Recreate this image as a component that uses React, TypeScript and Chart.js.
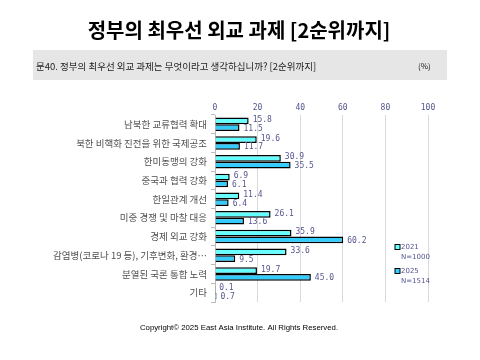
import React, { useEffect, useRef } from "react";
import { Chart, registerables } from "chart.js";

Chart.register(...registerables);

const categories = [
  "남북한 교류협력 확대",
  "북한 비핵화 진전을 위한 국제공조",
  "한미동맹의 강화",
  "중국과 협력 강화",
  "한일관계 개선",
  "미중 경쟁 및 마찰 대응",
  "경제 외교 강화",
  "감염병(코로나 19 등), 기후변화, 환경…",
  "분열된 국론 통합 노력",
  "기타",
];
const values2021 = [15.8, 19.6, 30.9, 6.9, 11.4, 26.1, 35.9, 33.6, 19.7, 0.1];
const values2025 = [11.5, 11.7, 35.5, 6.1, 6.4, 13.6, 60.2, 9.5, 45.0, 0.7];
const seriesNames = ["2021", "2025"];
const seriesN = ["N=1000", "N=1514"];
const xTicks = [0, 20, 40, 60, 80, 100];

const title = "정부의 최우선 외교 과제 [2순위까지]";
const question = "문40. 정부의 최우선 외교 과제는 무엇이라고 생각하십니까? [2순위까지]";
const unit = "(%)";
const footer = "Copyright© 2025 East Asia Institute. All Rights Reserved.";

const colors = ["#66FFFF", "#33CCFF"];
const labelColor = "#55558f";

const decorPlugin = {
  id: "decor",
  beforeDraw(chart: any) {
    const ctx = chart.ctx;
    ctx.save();
    ctx.fillStyle = "#ffffff";
    ctx.fillRect(0, 0, chart.width, chart.height);
    // title
    ctx.fillStyle = "#000";
    ctx.font = "bold 20px 'Noto Sans CJK KR'";
    ctx.textAlign = "center";
    ctx.textBaseline = "middle";
    ctx.fillText(title, 239, 30);
    // header box
    ctx.fillStyle = "#e6e6e6";
    ctx.fillRect(33, 50, 414, 30);
    ctx.fillStyle = "#222";
    ctx.font = "9.5px 'Noto Sans CJK KR'";
    ctx.textAlign = "left";
    ctx.fillText(question, 36, 66);
    ctx.font = "8px 'Noto Sans CJK KR'";
    ctx.fillText(unit, 418, 66);
    // footer
    ctx.fillStyle = "#000";
    ctx.font = "7.8px 'Liberation Sans'";
    ctx.textAlign = "center";
    ctx.fillText(footer, 239, 328);
    ctx.restore();
  },
  afterDatasetsDraw(chart: any) {
    const ctx = chart.ctx;
    ctx.save();
    ctx.font = "8px 'DejaVu Sans Mono'";
    ctx.fillStyle = labelColor;
    ctx.textAlign = "left";
    ctx.textBaseline = "middle";
    chart.data.datasets.forEach((ds: any, di: number) => {
      const meta = chart.getDatasetMeta(di);
      meta.data.forEach((bar: any, i: number) => {
        const v = ds.data[i];
        ctx.fillText(v.toFixed(1), bar.x + 4, bar.y + (di === 0 ? -1 : 1));
      });
    });
    // legend
    const lx = 395;
    const ly = [247, 271];
    for (let k = 0; k < 2; k++) {
      ctx.fillStyle = colors[k];
      ctx.fillRect(lx, ly[k] - 2.5, 5, 5);
      ctx.strokeStyle = "#000";
      ctx.lineWidth = 1;
      ctx.strokeRect(lx, ly[k] - 2.5, 5, 5);
      ctx.fillStyle = labelColor;
      ctx.font = "7px 'DejaVu Sans'";
      ctx.fillText(seriesNames[k], lx + 6, ly[k]);
      ctx.fillText(seriesN[k], lx + 6, ly[k] + 10);
    }
    ctx.restore();
  },
};

export default function App() {
  const ref = useRef<HTMLCanvasElement>(null);
  useEffect(() => {
    const chart = new Chart(ref.current!, {
      type: "bar",
      data: {
        labels: categories,
        datasets: [
          {
            label: seriesNames[0],
            data: values2021,
            backgroundColor: colors[0],
            borderColor: "#000",
            borderWidth: 1.5,
            categoryPercentage: 0.72,
            barPercentage: 1.0,
          },
          {
            label: seriesNames[1],
            data: values2025,
            backgroundColor: colors[1],
            borderColor: "#000",
            borderWidth: 1.5,
            categoryPercentage: 0.72,
            barPercentage: 1.0,
          },
        ],
      },
      options: {
        indexAxis: "y",
        responsive: false,
        animation: false,
        layout: { padding: { left: 0, right: 52, top: 100, bottom: 58 } },
        plugins: { legend: { display: false }, tooltip: { enabled: false } },
        scales: {
          x: {
            position: "top",
            min: 0,
            max: 100,
            afterBuildTicks: (axis: any) => {
              axis.ticks = xTicks.map((v) => ({ value: v }));
            },
            afterFit: (axis: any) => {
              axis.height = 15;
            },
            ticks: {
              color: labelColor,
              font: { size: 8, family: "'DejaVu Sans Mono'" },
              padding: 2,
            },
            grid: { color: "#d9d9d9", drawTicks: false, lineWidth: 1 },
            border: { display: false },
          },
          y: {
            afterFit: (axis: any) => {
              axis.width = 215;
            },
            ticks: {
              color: "#505050",
              font: { size: 9.5, family: "'Noto Sans CJK KR'" },
              padding: 4,
              autoSkip: false,
            },
            grid: {
              drawOnChartArea: false,
              drawTicks: true,
              tickLength: 4,
              color: "#bbb",
              offset: true,
            },
            border: { display: true, color: "#bbb" },
          },
        },
      },
      plugins: [decorPlugin],
    } as any);
    return () => chart.destroy();
  }, []);
  return (
    <div style={{ position: "fixed", left: 0, top: 0, width: 480, height: 360, background: "#fff" }}>
      <canvas ref={ref} width={480} height={360} style={{ width: 480, height: 360 }} />
    </div>
  );
}
